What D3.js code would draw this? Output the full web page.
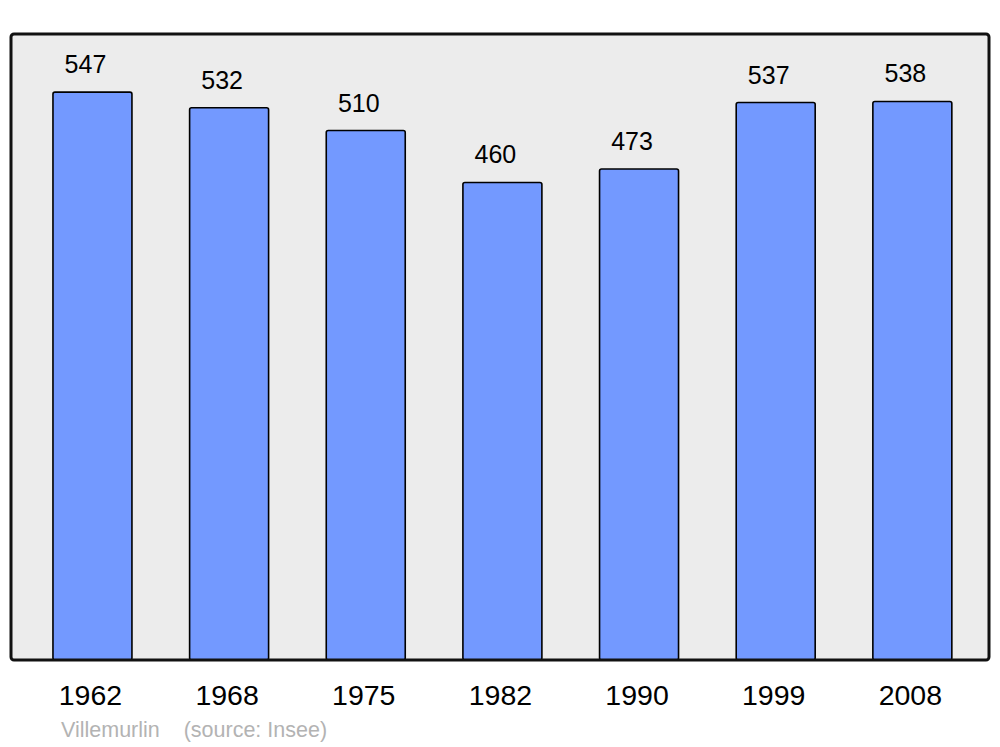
<!DOCTYPE html>
<html>
<head>
<meta charset="utf-8">
<script src="https://cdn.jsdelivr.net/npm/d3@7"></script>
<style>
  html, body { margin: 0; padding: 0; background: #ffffff; }
  svg { display: block; }
</style>
</head>
<body>
<svg id="chart" width="1000" height="747"></svg>
<script>
const years = ["1962", "1968", "1975", "1982", "1990", "1999", "2008"];
const population = [547, 532, 510, 460, 473, 537, 538];
const commune = "Villemurlin";
const sourceText = "(source: Insee)";

const svg = d3.select("#chart");
const font = "'Liberation Sans', Arial, sans-serif";

const panel = { left: 11, right: 989, top: 34, bottom: 660 };

const x = d3.scaleBand()
  .domain(years)
  .range([18.8, 986])
  .paddingInner(0.422)
  .paddingOuter(0.25);

const y = d3.scaleLinear()
  .domain([0, 603])
  .range([panel.bottom, panel.top]);

svg.append("rect")
  .attr("x", panel.left)
  .attr("y", panel.top)
  .attr("width", panel.right - panel.left)
  .attr("height", panel.bottom - panel.top)
  .attr("rx", 3)
  .attr("fill", "#ececec")
  .attr("stroke", "none");

const data = years.map((yr, i) => ({ year: yr, value: population[i] }));

svg.selectAll("rect.bar")
  .data(data)
  .join("rect")
  .attr("class", "bar")
  .attr("x", d => x(d.year))
  .attr("y", d => y(d.value))
  .attr("width", x.bandwidth())
  .attr("height", d => y(0) - y(d.value))
  .attr("rx", 2)
  .attr("fill", "#7399ff")
  .attr("stroke", "#000")
  .attr("stroke-width", 1.6);

svg.selectAll("text.val")
  .data(data)
  .join("text")
  .attr("class", "val")
  .attr("x", d => x(d.year) + x.bandwidth() / 2 - 7)
  .attr("y", d => y(d.value) - 19)
  .attr("text-anchor", "middle")
  .attr("font-family", font)
  .attr("font-size", 25)
  .attr("fill", "#000")
  .text(d => d.value);

// panel border on top
svg.append("rect")
  .attr("x", panel.left)
  .attr("y", panel.top)
  .attr("width", panel.right - panel.left)
  .attr("height", panel.bottom - panel.top)
  .attr("rx", 3)
  .attr("fill", "none")
  .attr("stroke", "#111")
  .attr("stroke-width", 3);

const xAxis = d3.axisBottom(x).tickSize(0).tickPadding(0);
const gx = svg.append("g")
  .attr("transform", `translate(-2,${panel.bottom})`)
  .call(xAxis);
gx.select(".domain").remove();
gx.selectAll("text")
  .attr("dy", null)
  .attr("y", 45)
  .attr("font-family", font)
  .attr("font-size", 28.5)
  .attr("fill", "#000");

svg.append("text")
  .attr("x", 61)
  .attr("y", 737)
  .attr("font-family", font)
  .attr("font-size", 21.5)
  .attr("fill", "#b3b3b3")
  .attr("xml:space", "preserve")
  .style("white-space", "pre")
  .text(commune + "    " + sourceText);
</script>
</body>
</html>
